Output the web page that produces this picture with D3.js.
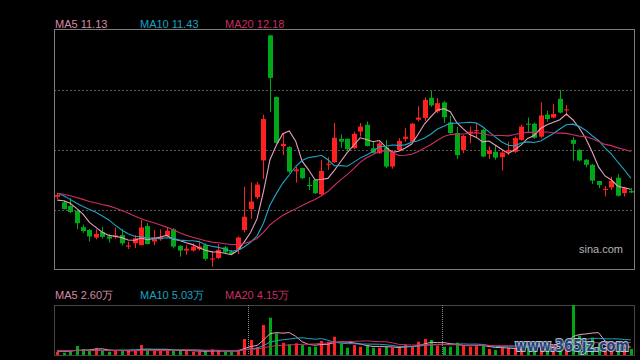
<!DOCTYPE html>
<html><head><meta charset="utf-8">
<script src="https://cdn.jsdelivr.net/npm/d3@7/dist/d3.min.js"></script>
<style>html,body{margin:0;padding:0;background:#000;overflow:hidden}</style>
</head><body><svg id="c" width="640" height="360"></svg>
<script>
// ---- data (price in yuan, volume in 万) ----
const opens  = [10.90,10.75,10.65,10.51,10.06,9.98,9.77,9.92,9.80,9.78,
  9.84,9.52,9.61,9.56,10.09,9.66,9.72,9.82,10.00,9.54,
  9.41,9.41,9.45,9.56,9.16,9.20,9.50,9.38,9.43,9.98,
  10.56,10.89,11.91,15.38,13.67,12.31,12.28,11.61,11.70,11.23,
  11.37,10.97,11.79,11.86,12.51,12.51,12.25,12.71,12.90,12.25,
  12.11,12.27,11.74,12.20,12.51,12.43,13.04,13.09,13.65,13.27,
  13.52,12.96,12.67,12.20,12.67,12.72,12.76,12.09,12.15,12.00,
  12.15,12.15,12.48,12.93,12.93,12.57,13.18,13.10,13.62,13.30,
  12.48,12.20,11.93,11.79,11.34,11.10,11.16,11.43,11.00,11.06];
const highs  = [10.99,10.80,10.86,10.54,10.13,10.01,10.00,10.07,9.86,10.05,
  10.00,9.66,9.84,10.26,10.17,9.98,10.00,10.06,10.03,9.56,
  9.56,9.61,9.68,9.61,9.40,9.59,9.54,9.43,9.80,11.18,
  11.30,11.31,13.18,15.40,13.68,12.67,12.31,11.74,11.71,11.45,
  11.38,11.93,12.00,12.95,12.63,12.52,12.71,12.95,12.99,12.43,
  12.43,12.48,12.20,12.53,12.81,12.95,13.41,13.66,13.86,13.64,
  13.56,13.15,12.85,12.62,12.85,12.95,12.79,12.30,12.34,12.20,
  12.43,12.57,12.90,13.10,12.96,13.52,13.29,13.48,13.87,13.45,
  12.56,12.23,11.95,11.81,11.34,11.20,11.46,11.53,11.18,11.14];
const lows   = [10.84,10.55,10.45,10.00,9.90,9.66,9.72,9.74,9.63,9.74,
  9.55,9.45,9.48,9.55,9.58,9.56,9.68,9.80,9.47,9.24,
  9.29,9.38,9.41,9.13,8.96,9.17,9.33,9.29,9.31,9.91,
  10.29,10.84,11.40,13.25,12.37,12.06,11.56,11.30,11.39,11.09,
  10.98,10.95,11.65,11.84,12.26,12.20,12.23,12.57,12.30,12.11,
  12.09,11.70,11.68,12.18,12.43,12.41,12.99,13.01,13.40,13.22,
  12.95,12.65,11.95,12.11,12.39,12.53,12.00,11.95,11.93,11.63,
  12.06,12.12,12.46,12.67,12.51,12.53,12.99,13.08,13.22,13.15,
  11.90,11.88,11.72,11.26,11.14,10.91,11.09,10.91,10.91,11.01];
const closes = [10.95,10.56,10.48,10.17,9.95,9.80,9.87,9.79,9.74,9.83,
  9.61,9.55,9.75,10.05,9.59,9.77,9.78,9.96,9.52,9.41,
  9.46,9.52,9.52,9.18,9.19,9.43,9.36,9.31,9.77,10.35,
  10.77,11.24,13.06,14.20,12.40,12.37,11.60,11.66,11.42,11.20,
  11.00,11.62,11.82,12.54,12.43,12.22,12.65,12.85,12.31,12.12,
  12.38,11.74,12.13,12.45,12.57,12.93,13.10,13.59,13.44,13.50,
  13.11,12.67,12.06,12.59,12.71,12.75,12.02,12.18,11.99,12.13,
  12.20,12.53,12.85,12.90,12.54,13.16,13.06,13.20,13.24,13.33,
  12.37,11.91,11.79,11.35,11.23,11.12,11.34,10.93,11.14,11.02];
const volumes = [1.10,0.77,1.10,3.00,2.00,1.67,2.23,1.43,1.10,1.33,
  1.67,1.43,1.67,3.33,1.67,1.43,1.43,1.67,1.67,1.43,
  1.33,1.10,1.10,1.33,1.90,1.33,1.10,1.10,1.67,5.33,
  5.00,2.67,10.00,12.43,7.23,4.10,3.57,3.90,3.33,2.77,
  2.77,4.67,4.43,6.10,3.90,2.43,3.33,2.77,3.33,2.43,
  2.43,2.77,2.43,2.43,3.57,2.77,4.43,5.33,5.00,3.10,
  2.77,2.77,4.10,3.10,2.77,3.10,3.10,2.00,1.67,2.43,
  2.43,2.23,3.33,3.00,3.33,4.50,3.00,3.33,4.25,3.33,
  16.67,6.50,4.30,5.80,4.00,2.67,3.00,3.33,2.00,2.00];
// moving-average values at the start of the window (their earlier history is off-chart)
const ma5Head  = [10.81,10.79,10.72,10.58];
const ma10Head = [11.00,10.93,10.83,10.72,10.63,10.55,10.47,10.37,10.26];
const ma20Head = [11.00,10.97,10.93,10.88,10.83,10.77,10.73,10.69,10.65,10.59,
  10.52,10.45,10.37,10.29,10.23,10.18,10.12,10.06,9.99];
const vma5Head  = [1.30,1.25,1.30,1.55];
const vma10Head = [1.45,1.40,1.40,1.50,1.55,1.55,1.60,1.55,1.50];
const vma20Head = [1.55,1.52,1.50,1.55,1.55,1.55,1.57,1.55,1.52,1.52,
  1.52,1.50,1.50,1.55,1.55,1.53,1.52,1.52,1.52];
const priceLegend = [["MA5 ","11.13"],["MA10 ","11.43"],["MA20 ","12.18"]];
const volLegend   = [["MA5 ","2.60万"],["MA10 ","5.03万"],["MA20 ","4.15万"]];
const priceRange = [8.87, 15.53];
const monthBreaks = [30, 60];

// ---- styles ----
const UP = "#ff2020", DOWN = "#00a818";
const maColors = ["#e8a0bd", "#1fa5c8", "#cf2c66"];
const legColors = ["#d58aa6", "#1ba0c2", "#cc2c64"];

const svg = d3.select("#c");
svg.append("rect").attr("width",640).attr("height",360).attr("fill","#000");

const n = closes.length;
const L = 54, R = 634;
const x = d3.scaleBand().domain(d3.range(n)).range([L, R]).padding(0);
const cx = i => x(i) + x.bandwidth() / 2;
const y = d3.scaleLinear().domain(priceRange).range([270, 30]);
const yv = d3.scaleLinear().domain([0, d3.max(volumes)]).range([355, 305]);

function movingAvg(vals, k, head) {
  return vals.map((v, i) => i >= k - 1 ? d3.mean(vals.slice(i - k + 1, i + 1)) : head[i]);
}
const priceMAs = [movingAvg(closes,5,ma5Head), movingAvg(closes,10,ma10Head), movingAvg(closes,20,ma20Head)];
const volMAs = [movingAvg(volumes,5,vma5Head), movingAvg(volumes,10,vma10Head), movingAvg(volumes,20,vma20Head)];

// main grid
const gridVals = [1,2,3].map(k => priceRange[0] + (priceRange[1]-priceRange[0]) * k / 4);
svg.append("g").selectAll("line").data(gridVals).join("line")
  .attr("x1", L).attr("x2", R)
  .attr("y1", d => Math.round(y(d)) + 0.5).attr("y2", d => Math.round(y(d)) + 0.5)
  .attr("stroke", "#5a5a5a").attr("stroke-dasharray", "2,2");

// main border
svg.append("rect").attr("x", L + 0.5).attr("y", 29.5).attr("width", R - L).attr("height", 240)
  .attr("fill", "none").attr("stroke", "#7c7c7c");

// candles
const idx = d3.range(n);
const cg = svg.append("g");
cg.selectAll("line").data(idx).join("line")
  .attr("x1", i => Math.round(cx(i)) + 0.5).attr("x2", i => Math.round(cx(i)) + 0.5)
  .attr("y1", i => y(highs[i])).attr("y2", i => y(lows[i]))
  .attr("stroke", i => closes[i] >= opens[i] ? UP : DOWN).attr("stroke-width", 1);
cg.selectAll("rect").data(idx).join("rect")
  .attr("x", i => Math.round(cx(i)) - 2)
  .attr("width", 5)
  .attr("y", i => y(Math.max(opens[i], closes[i])))
  .attr("height", i => Math.max(1, Math.abs(y(opens[i]) - y(closes[i]))))
  .attr("fill", i => closes[i] >= opens[i] ? UP : DOWN);

// price MA lines
const line = d3.line().x((d, i) => cx(i)).y(d => y(d));
svg.append("g").selectAll("path").data(priceMAs).join("path")
  .attr("d", d => line(d)).attr("fill", "none")
  .attr("stroke", (d, k) => maColors[k]).attr("stroke-width", 1.1);

// legends
function legend(items, baseline) {
  const xs = [55, 140, 225];
  items.forEach((it, k) => {
    svg.append("text").attr("x", xs[k]).attr("y", baseline)
      .attr("font-family", "'Liberation Sans', Arial, sans-serif").attr("font-size", 11)
      .attr("fill", legColors[k]).text(it[0] + it[1]);
  });
}
legend(priceLegend, 28);

svg.append("text").attr("x", 623).attr("y", 253).attr("text-anchor", "end")
  .attr("font-family", "'Liberation Sans', Arial, sans-serif").attr("font-size", 11)
  .attr("fill", "#b4b4b4").text("sina.com");

// volume panel
legend(volLegend, 299);
const vb = svg.append("g");
vb.append("rect").attr("x", L + 0.5).attr("y", 305.5).attr("width", R - L).attr("height", 50)
  .attr("fill", "none").attr("stroke", "#8a8a8a").attr("stroke-dasharray", "1,1");
vb.selectAll("line.mb").data(monthBreaks).join("line").attr("class","mb")
  .attr("x1", d => Math.round(x(d)) + 1.5).attr("x2", d => Math.round(x(d)) + 1.5)
  .attr("y1", 305).attr("y2", 355)
  .attr("stroke", "#8a8a8a").attr("stroke-dasharray", "1,1");
vb.selectAll("rect.v").data(idx).join("rect").attr("class","v")
  .attr("x", i => Math.round(cx(i)) - 1).attr("width", 3)
  .attr("y", i => yv(volumes[i])).attr("height", i => 355 - yv(volumes[i]))
  .attr("fill", i => closes[i] >= opens[i] ? UP : DOWN);
const vline = d3.line().x((d, i) => cx(i)).y(d => yv(d));
vb.selectAll("path").data(volMAs).join("path")
  .attr("d", d => vline(d)).attr("fill", "none")
  .attr("stroke", (d, k) => maColors[k]).attr("stroke-width", 1);

// watermark
svg.append("text").attr("x", 515).attr("y", 351)
  .attr("font-family", "'DejaVu Sans', sans-serif").attr("font-weight", "bold").attr("font-size", 16)
  .attr("textLength", 114).attr("lengthAdjust", "spacingAndGlyphs")
  .attr("fill", "#24457d").attr("stroke", "#c4d2e2").attr("stroke-width", 2)
  .attr("paint-order", "stroke").attr("opacity", 0.9).text("www.365jz.com");
</script></body></html>
